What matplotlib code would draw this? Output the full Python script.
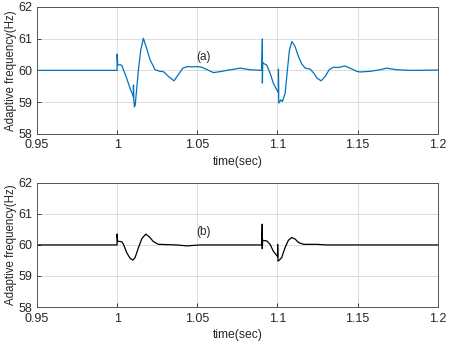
import numpy as np
import matplotlib
matplotlib.use('Agg')
from matplotlib import pyplot as plt

# (a) adaptive frequency
time_a = [0.95, 1.0, 1.0, 1.0004, 1.002, 1.003, 1.0039, 1.0055, 1.007, 1.0082, 1.0092, 1.0102, 1.0102,
          1.0104, 1.0108, 1.0113, 1.0122, 1.0133, 1.0148, 1.0164, 1.0185, 1.0206, 1.0237, 1.0268,
          1.0289, 1.032, 1.0355, 1.0382, 1.041, 1.0438, 1.0466, 1.0497, 1.0528, 1.057, 1.0601,
          1.0642, 1.0684, 1.0767, 1.0829, 1.0902, 1.0906, 1.0906, 1.0908, 1.0912, 1.0933, 1.0954,
          1.0974, 1.0995, 1.1006, 1.1006, 1.1008, 1.1021, 1.1031, 1.1048, 1.1062, 1.1075, 1.109,
          1.111, 1.1131, 1.1152, 1.1173, 1.1204, 1.1225, 1.1246, 1.1272, 1.1298, 1.1322, 1.1349,
          1.138, 1.1421, 1.1453, 1.1494, 1.1515, 1.1577, 1.164, 1.168, 1.1745, 1.183, 1.2]
freq_a = [60.0, 60.0, 60.51, 60.17, 60.18, 60.15, 60.02, 59.82, 59.6, 59.42, 59.3, 59.15, 59.54,
          59.1, 58.85, 58.91, 59.4, 60.02, 60.65, 61.01, 60.68, 60.33, 60.02, 59.97,
          59.96, 59.81, 59.67, 59.87, 60.07, 60.12, 60.11, 60.12, 60.1, 60.0, 59.93,
          59.96, 60.0, 60.07, 60.02, 60.0, 60.99, 59.6, 60.25, 60.22, 60.17, 59.91,
          59.6, 59.39, 59.3, 60.04, 58.97, 59.07, 59.02, 59.28, 60.02, 60.65, 60.91,
          60.75, 60.43, 60.2, 60.07, 60.04, 59.92, 59.76, 59.67, 59.81, 60.02, 60.1,
          60.09, 60.14, 60.07, 59.97, 59.95, 59.97, 60.02, 60.07, 60.02, 60.0, 60.01]

# (b) adaptive frequency
time_b = [0.95, 1.0, 1.0, 1.0003, 1.002, 1.003, 1.004, 1.006, 1.0081, 1.0098, 1.0112, 1.0133,
          1.0154, 1.0179, 1.0201, 1.0226, 1.0257, 1.0372, 1.0435, 1.0517, 1.0902, 1.0905,
          1.0905, 1.0908, 1.0933, 1.0954, 1.0974, 1.0991, 1.1001, 1.1001, 1.1003, 1.1011,
          1.1026, 1.1047, 1.1068, 1.1089, 1.111, 1.1131, 1.1162, 1.1246, 1.1308, 1.2]
freq_b = [60.0, 60.0, 60.35, 60.12, 60.11, 60.1, 60.02, 59.75, 59.57, 59.51, 59.59, 59.91,
          60.2, 60.35, 60.26, 60.11, 60.02, 60.0, 59.97, 60.0, 60.0, 60.67,
          59.88, 60.15, 60.13, 60.02, 59.8, 59.69, 59.62, 60.02, 59.48, 59.51,
          59.59, 59.91, 60.15, 60.24, 60.19, 60.08, 60.02, 60.02, 60.0, 60.0]

xticks = [0.95, 1.0, 1.05, 1.1, 1.15, 1.2]
xtick_labels = ['0.95', '1', '1.05', '1.1', '1.15', '1.2']
yticks = [58, 59, 60, 61, 62]

plt.rcParams['font.family'] = ['Liberation Sans', 'DejaVu Sans']

fig = plt.figure(figsize=(4.5, 3.45), dpi=100)
ax1 = fig.add_axes([0.082, 0.612, 0.891, 0.368])
ax2 = fig.add_axes([0.082, 0.110, 0.891, 0.360])

panels = [(ax1, time_a, freq_a, '#0072BD', '(a)'),
          (ax2, time_b, freq_b, 'black', '(b)')]

for ax, t, f, col, tag in panels:
    ax.plot(t, f, color=col, linewidth=0.9)
    ax.set_xlim(0.95, 1.2)
    ax.set_ylim(58, 62)
    ax.set_xticks(xticks)
    ax.set_xticklabels(xtick_labels)
    ax.set_yticks(yticks)
    ax.grid(True, color='#dcdcdc', linewidth=0.7)
    ax.set_axisbelow(True)
    ax.tick_params(direction='in', length=3, width=0.6, colors='#262626', labelsize=9)
    ax.tick_params(axis='x', pad=4)
    ax.tick_params(axis='y', pad=3)
    for s in ax.spines.values():
        s.set_color('#555555')
        s.set_linewidth(0.7)
    ax.set_xlabel('time(sec)', fontsize=8.7, color='#262626', labelpad=3)
    ax.set_ylabel('Adaptive frequency(Hz)', fontsize=8.3, color='#262626', labelpad=1.5)
    ax.text(1.054, 60.43, tag, fontsize=8.5, color='#262626', ha='center', va='center')

fig.savefig('out.png', dpi=100)
